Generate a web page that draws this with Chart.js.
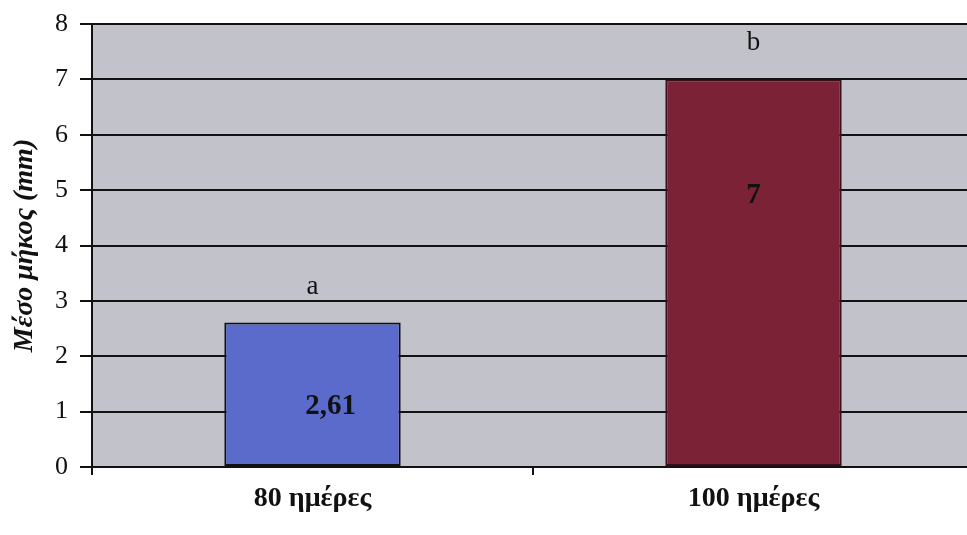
<!DOCTYPE html>
<html>
<head>
<meta charset="utf-8">
<script src="https://cdn.jsdelivr.net/npm/chart.js@4/dist/chart.umd.min.js"></script>
<style>
html,body{margin:0;padding:0;background:#fff;overflow:hidden;}
#wrap{width:975px;height:535px;position:relative;}
</style>
</head>
<body>
<div id="wrap"><canvas id="c" width="975" height="535"></canvas></div>
<script>
const categories = ["80 ημέρες", "100 ημέρες"];
const values = [2.61, 7];
const valueLabels = ["2,61", "7"];
const letters = ["a", "b"];
const yTicks = [0, 1, 2, 3, 4, 5, 6, 7, 8];
const yTitle = "Μέσο μήκος (mm)";
const barColors = ["#5b6bcc", "#7b2236"];
const labelAt = [1.1, 4.9];

const serif = "'Liberation Serif', 'DejaVu Serif', serif";

const annot = {
  id: 'annot',
  afterDatasetsDraw(chart) {
    const ctx = chart.ctx;
    const meta = chart.getDatasetMeta(0);
    const y = chart.scales.y;
    ctx.save();
    ctx.textAlign = 'center';
    ctx.textBaseline = 'middle';
    meta.data.forEach((bar, i) => {
      ctx.fillStyle = '#111';
      ctx.font = "bold 29px " + serif;
      ctx.fillText(valueLabels[i], bar.x + (i === 0 ? 18 : 0), y.getPixelForValue(labelAt[i]));
      ctx.font = "27px " + serif;
      ctx.fillText(letters[i], bar.x, bar.y - 36);
    });
    ctx.restore();
  }
};

const plotBg = {
  id: 'plotBg',
  beforeDraw(chart) {
    const a = chart.chartArea;
    const ctx = chart.ctx;
    ctx.save();
    ctx.fillStyle = '#c1c2ca';
    ctx.fillRect(a.left, a.top, a.right - a.left, a.bottom - a.top);
    ctx.restore();
  }
};

new Chart(document.getElementById('c'), {
  type: 'bar',
  data: {
    labels: categories,
    datasets: [{
      data: values,
      backgroundColor: barColors,
      borderColor: ['#111', '#3a1018'],
      borderWidth: 2,
      borderSkipped: false,
      barPercentage: 0.4,
      categoryPercentage: 1.0
    }]
  },
  options: {
    responsive: false,
    animation: false,
    layout: { padding: { top: 24, right: 1, left: 0, bottom: 0 } },
    plugins: { legend: { display: false }, tooltip: { enabled: false } },
    scales: {
      x: {
        offset: true,
        grid: { offset: true, drawOnChartArea: false, drawTicks: true, tickLength: 8, color: '#111', lineWidth: 2 },
        border: { display: true, color: '#111', width: 2 },
        ticks: { color: '#111', font: { family: serif, size: 28, weight: 'bold' }, padding: 7 },
        afterFit(s) { s.height = 68; }
      },
      y: {
        min: 0, max: 8,
        afterBuildTicks(s) { s.ticks = yTicks.map(v => ({ value: v })); },
        grid: { color: '#111', lineWidth: 2, drawTicks: true, tickLength: 12, tickColor: '#111' },
        border: { display: true, color: '#111', width: 2 },
        ticks: { color: '#111', font: { family: serif, size: 26, lineHeight: 0.85 }, padding: 12 },
        title: { display: true, text: yTitle, color: '#111', font: { family: serif, size: 28, style: 'italic', weight: 'bold' }, padding: { top: 8, bottom: 2 } },
        afterFit(s) { s.width = 92; }
      }
    }
  },
  plugins: [plotBg, annot]
});
</script>
</body>
</html>
